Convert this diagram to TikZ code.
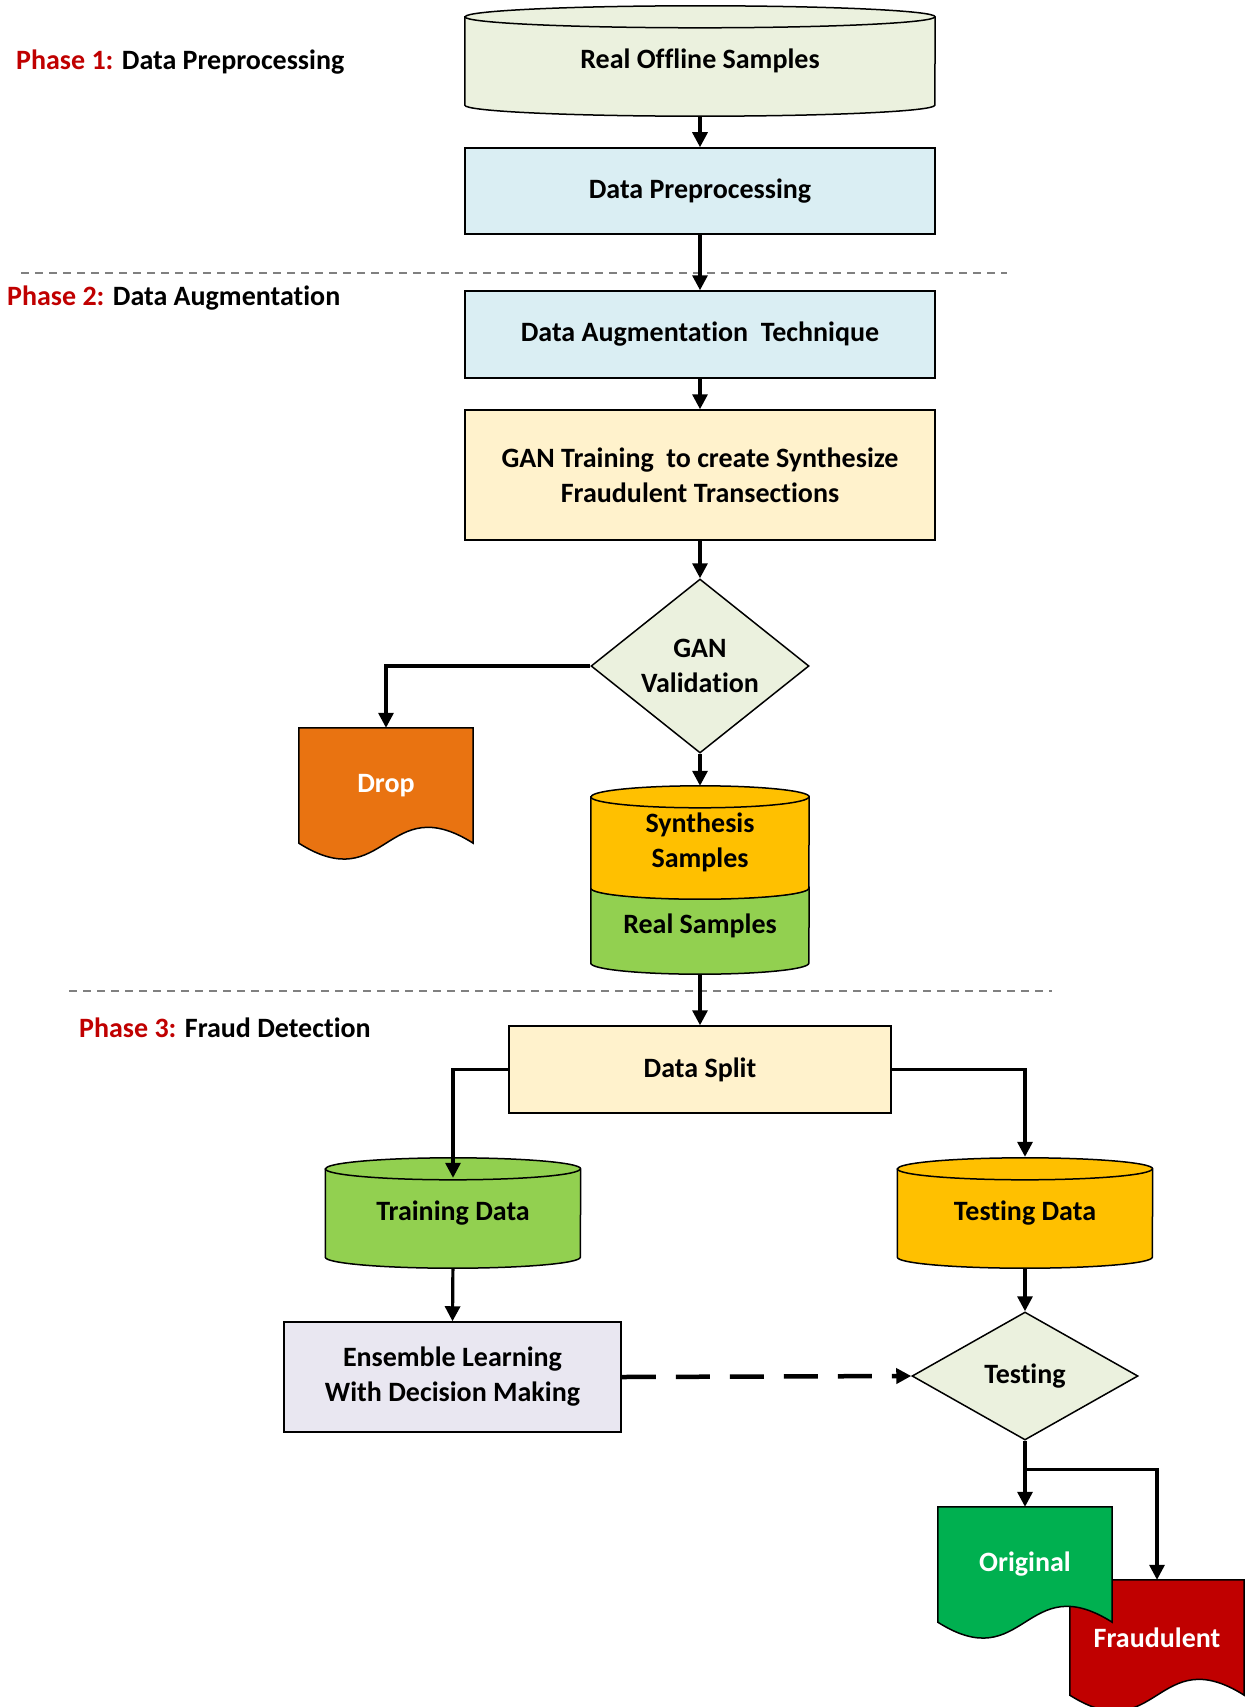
\documentclass[tikz,border=0pt]{standalone}
\usepackage{fontspec}
\setmainfont{Carlito}[Ligatures=NoCommon]
\usetikzlibrary{shapes.geometric, arrows.meta, backgrounds}

\definecolor{paleolive}{HTML}{EBF1DE}
\definecolor{paleblue}{HTML}{DAEEF3}
\definecolor{paleyellow}{HTML}{FFF2CC}
\definecolor{palelilac}{HTML}{E9E7F1}
\definecolor{gold}{HTML}{FFC000}
\definecolor{leafgreen}{HTML}{92D050}
\definecolor{dropor}{HTML}{E97311}
\definecolor{okgreen}{HTML}{00B050}
\definecolor{fraudred}{HTML}{C00000}
\definecolor{phasered}{HTML}{C00000}

% cylinder round a node: node, x radius, fill
\newcommand{\cylshape}[3]{%
  \draw[fill=#3, line width=1.5pt] (#1.north west) -- (#1.south west)
    arc[start angle=180, end angle=360, x radius=#2, y radius=11pt]
    -- (#1.north east)
    arc[start angle=0, end angle=180, x radius=#2, y radius=11pt] -- cycle;
  \draw[line width=1.5pt] (#1.north west)
    arc[start angle=180, end angle=360, x radius=#2, y radius=11pt];
}
% document shape with wavy bottom: node, fill
\newcommand{\docshape}[2]{%
  \draw[fill=#2, line width=1.5pt] (#1.north west) -- (#1.south west)
    .. controls +(87,55) and +(-87,-55) .. (#1.south east)
    -- (#1.north east) -- cycle;
}

\begin{document}
\begin{tikzpicture}[x=1pt, y=-1pt,
    every node/.style={font=\fontsize{28}{35}\selectfont\bfseries, align=center, inner sep=0pt},
    box/.style={draw, line width=1.5pt, minimum width=470pt},
    decision/.style={diamond, draw, line width=1.5pt, fill=paleolive},
    store/.style={minimum height=88pt},
    doc/.style={minimum width=174pt, minimum height=115pt, text=white},
    arr/.style={line width=3.2pt, -{Triangle[length=15pt, width=15pt]}},
    phase/.style={anchor=west},
    sep/.style={gray, line width=1.5pt, dash pattern=on 8pt off 6pt}]
    \useasboundingbox (0,0) rectangle (1245,1707);

    % Phase 1
    \node[phase] (ph1) at (16,62) {\textcolor{phasered}{Phase 1:} Data Preprocessing};
    \node[store, minimum width=470pt] (rofs) at (700,61) {Real Offline Samples};
    \node[box, fill=paleblue, minimum height=86pt] (dp) at (700,191) {Data Preprocessing};

    % Phase 2
    \draw[sep] (21,273) -- (1007,273);
    \node[phase] (ph2) at (7,298) {\textcolor{phasered}{Phase 2:} Data Augmentation};
    \node[box, fill=paleblue, minimum height=87pt] (dat) at (700,334.5) {Data Augmentation~ Technique};
    \node[box, fill=paleyellow, minimum height=130pt] (gan) at (700,475) {GAN Training~ to create Synthesize\\Fraudulent Transections};
    \node[decision, minimum width=218pt, minimum height=174pt, aspect=1.25] (gv) at (700,666) {GAN\\Validation};
    \node[doc] (drop) at (386,785.5) {Drop};
    \node[minimum width=218pt, minimum height=91pt] (syn) at (700,842.5) {Synthesis\\Samples};
    \node[minimum width=218pt, minimum height=75pt] (rsm) at (700,925.5) {Real Samples};

    % Phase 3
    \draw[sep] (69,991) -- (1052,991);
    \node[phase] (ph3) at (79,1028) {\textcolor{phasered}{Phase 3:} Fraud Detection};
    \node[box, fill=paleyellow, minimum width=382pt, minimum height=87pt] (ds) at (700,1069.5) {Data Split};
    \node[store, minimum width=255pt] (trd) at (453,1213) {Training Data};
    \node[store, minimum width=255pt] (tsd) at (1025,1213) {Testing Data};
    \node[box, fill=palelilac, minimum width=337pt, minimum height=110pt] (ens) at (452.5,1377) {Ensemble Learning\\With Decision Making};
    \node[decision, minimum width=226pt, minimum height=128pt, aspect=1.77] (tst) at (1025,1376) {Testing};
    \node[doc] (frd) at (1157,1637.5) {Fraudulent};
    \node[doc] (org) at (1025,1564.5) {Original};

    % shapes behind the texts
    \begin{scope}[on background layer]
        \fill[white] (0,0) rectangle (1245,1707);
        \cylshape{rofs}{235pt}{paleolive}
        \cylshape{rsm}{109pt}{leafgreen}
        \cylshape{syn}{109pt}{gold}
        \cylshape{trd}{127.5pt}{leafgreen}
        \cylshape{tsd}{127.5pt}{gold}
        \docshape{drop}{dropor}
        \docshape{frd}{fraudred}
        \docshape{org}{okgreen}
    \end{scope}

    % connectors
    \draw[arr, shorten <=11pt] (rofs.south) -- (dp.north);
    \draw[arr] (dp.south) -- (dat.north);
    \draw[arr] (dat.south) -- (gan.north);
    \draw[arr] (gan.south) -- (gv.north);
    \draw[arr] (gv.west) -| (drop.north);
    \draw[arr, shorten >=11pt] (gv.south) -- (syn.north);
    \draw[arr, shorten <=11pt] (rsm.south) -- (ds.north);
    \draw[arr, shorten >=-9pt] (ds.west) -| (trd.north);
    \draw[arr, shorten >=12pt] (ds.east) -| (tsd.north);
    \draw[arr, shorten <=11pt] (trd.south) -- (ens.north);
    \draw[arr, shorten <=11pt] (tsd.south) -- (tst.north);
    \draw[arr, line width=4.5pt, dash pattern=on 34pt off 20pt] (ens.east) -- (tst.west);
    \draw[arr] (tst.south) -- (org.north);
    \draw[arr] (tst.south) -- ++(0,29) -| (frd.north);
\end{tikzpicture}
\end{document}
